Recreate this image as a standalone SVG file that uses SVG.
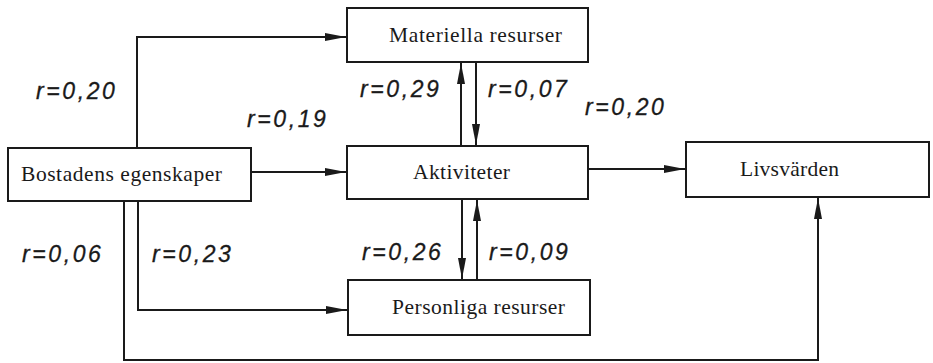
<svg xmlns="http://www.w3.org/2000/svg" width="933" height="363" viewBox="0 0 933 363">
  <style>
    .box { fill: #ffffff; stroke: #1a1a1a; stroke-width: 2; }
    .name { font-family: "Liberation Serif", "DejaVu Serif", serif; font-size: 21.5px; fill: #1a1a1a; }
    .wire { fill: none; stroke: #1a1a1a; stroke-width: 2; marker-end: url(#head); }
    .r { font-family: "Liberation Sans", "DejaVu Sans", sans-serif; font-style: italic; font-size: 23px; letter-spacing: 2.6px; fill: #1a1a1a; stroke: #1a1a1a; stroke-width: 0.3; }
  </style>
  <defs>
    <marker id="head" markerUnits="userSpaceOnUse" markerWidth="22" markerHeight="10" refX="21" refY="5" orient="auto">
      <path d="M0,1 L21,5 L0,9 Z" fill="#1a1a1a"/>
    </marker>
  </defs>
  <rect width="933" height="363" fill="#ffffff"/>

  <g id="connectors">
    <path class="wire" d="M137,148 V37 H346"/>
    <path class="wire" d="M251,172 H346"/>
    <path class="wire" d="M461,146 V63"/>
    <path class="wire" d="M476,62 V145"/>
    <path class="wire" d="M588,169 H685"/>
    <path class="wire" d="M462,199 V279"/>
    <path class="wire" d="M477,280 V200"/>
    <path class="wire" d="M138,201 V310 H347"/>
    <path class="wire" d="M124,201 V360 H818 V198"/>
  </g>

  <g id="bostadens">
    <rect class="box" x="8" y="148" width="243" height="53"/>
    <text class="name" x="21" y="181" textLength="201" lengthAdjust="spacing">Bostadens egenskaper</text>
  </g>
  <g id="materiella">
    <rect class="box" x="347" y="8" width="241" height="54"/>
    <text class="name" x="389" y="42" textLength="173" lengthAdjust="spacing">Materiella resurser</text>
  </g>
  <g id="aktiviteter">
    <rect class="box" x="347" y="146" width="241" height="53"/>
    <text class="name" x="413" y="179" textLength="97" lengthAdjust="spacing">Aktiviteter</text>
  </g>
  <g id="personliga">
    <rect class="box" x="348" y="280" width="242" height="55"/>
    <text class="name" x="392" y="314" textLength="173" lengthAdjust="spacing">Personliga resurser</text>
  </g>
  <g id="livsvarden">
    <rect class="box" x="686" y="142" width="243" height="55"/>
    <text class="name" x="740" y="176" textLength="99" lengthAdjust="spacing">Livsvärden</text>
  </g>

  <g id="coefficients">
    <text class="r" x="36" y="99">r=0,20</text>
    <text class="r" x="247" y="127">r=0,19</text>
    <text class="r" x="360" y="97">r=0,29</text>
    <text class="r" x="488" y="97">r=0,07</text>
    <text class="r" x="585" y="115">r=0,20</text>
    <text class="r" x="22" y="262">r=0,06</text>
    <text class="r" x="152" y="262">r=0,23</text>
    <text class="r" x="362" y="260">r=0,26</text>
    <text class="r" x="489" y="260">r=0,09</text>
  </g>
</svg>
